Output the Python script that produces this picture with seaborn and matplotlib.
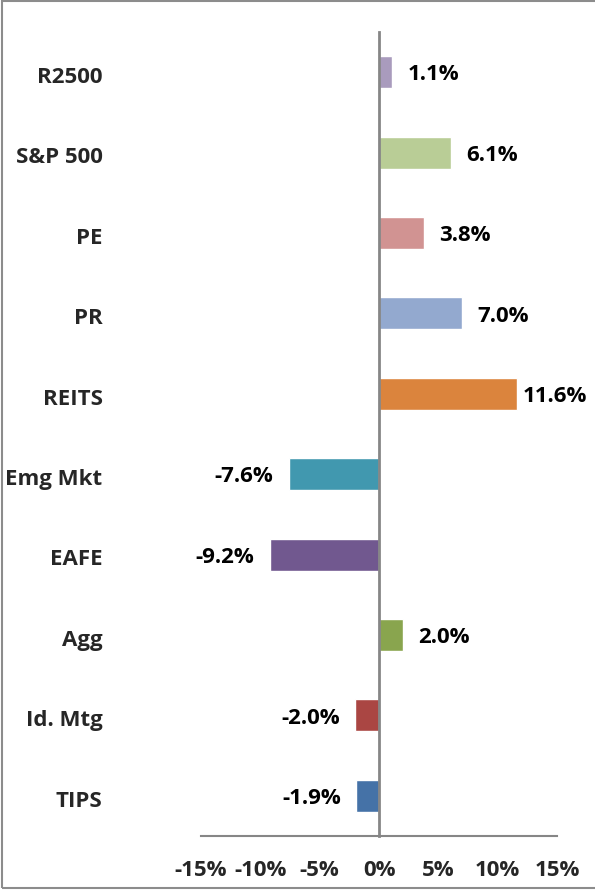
import seaborn as sns
import pandas as pd
import numpy as np
import matplotlib.pyplot as plt
import matplotlib.transforms as mtransforms
from matplotlib.patches import Rectangle

# data (top to bottom)
categories = ['R2500', 'S&P 500', 'PE', 'PR', 'REITS',
              'Emg Mkt', 'EAFE', 'Agg', 'Id. Mtg', 'TIPS']
returns = [1.1, 6.1, 3.8, 7.0, 11.6, -7.6, -9.2, 2.0, -2.0, -1.9]
bar_colors = ['#A99BBD', '#B9CD96', '#D19392', '#93A9CF', '#DB843D',
              '#4198AF', '#71588F', '#89A54E', '#AA4643', '#4572A7']
xticks = [-15, -10, -5, 0, 5, 10, 15]

sns.set_style('white')
plt.rcParams['font.family'] = ['Open Sans', 'DejaVu Sans']
plt.rcParams['font.weight'] = 'bold'
fsize = 16

df = pd.DataFrame({'name': categories, 'ret': returns})

fig = plt.figure(figsize=(5.95, 8.9), dpi=100)
ax = fig.add_axes([201 / 595, 1 - 836 / 890, 356 / 595, 804 / 890])

sns.barplot(data=df, x='ret', y='name', hue='name', palette=bar_colors,
            legend=False, width=0.4, orient='h', saturation=1, ax=ax)

axis_grey = '#868686'
ax.set_xlim(-15, 15)
ax.set_ylim(len(categories) - 0.5, -0.5)
ax.set_xlabel('')
ax.set_ylabel('')

# spines: y axis sits at zero, x axis at the bottom
for s in ['top', 'right']:
    ax.spines[s].set_visible(False)
ax.spines['left'].set_position(('data', 0))
ax.spines['left'].set_color(axis_grey)
ax.spines['left'].set_linewidth(2)
ax.spines['bottom'].set_color(axis_grey)
ax.spines['bottom'].set_linewidth(1.5)

ax.set_xticks(xticks)
ax.set_xticklabels([f'{t}%' for t in xticks], fontsize=fsize, fontweight='bold')
ax.tick_params(axis='x', direction='out', length=6, width=1.5,
               color=axis_grey, pad=11)

# category names far left, boundary ticks on the zero spine
ax.set_yticks(range(len(categories)))
ax.set_yticklabels(categories, fontsize=fsize, fontweight='bold')
ax.set_yticks(np.arange(-0.5, len(categories), 1), minor=True)
ax.tick_params(axis='y', which='major', length=0, pad=199)
ax.tick_params(axis='y', which='minor', direction='out', length=6,
               width=1.5, color=axis_grey)
nudge = mtransforms.ScaledTranslation(0, -2 / 72, fig.dpi_scale_trans)
for lab in ax.get_yticklabels():
    lab.set_transform(lab.get_transform() + nudge)

# value labels
labels = []
for i, v in enumerate(returns):
    t = ax.annotate(f'{v:.1f}%', xy=(v, i), xytext=(11 if v >= 0 else -11, -2),
                    textcoords='offset points', ha='left' if v >= 0 else 'right',
                    va='center', fontsize=fsize, fontweight='bold', color='black')
    labels.append(t)

# keep labels inside the chart area, like Excel does
fig.canvas.draw()
r = fig.canvas.get_renderer()
for t in labels:
    over = t.get_window_extent(r).x1 - (595 - 8)
    if over > 0:
        x0, y0 = t.get_position() if False else t.xyann
        t.xyann = (x0 - over * 72 / fig.dpi, y0)

# chart border (right edge falls outside the image)
fig.patches.append(Rectangle((2 / 595, 2 / 890), 1.0, 887 / 890,
                             transform=fig.transFigure, fill=False,
                             edgecolor='#8C8C8C', linewidth=1.5))

fig.savefig('out.png', dpi=100)
